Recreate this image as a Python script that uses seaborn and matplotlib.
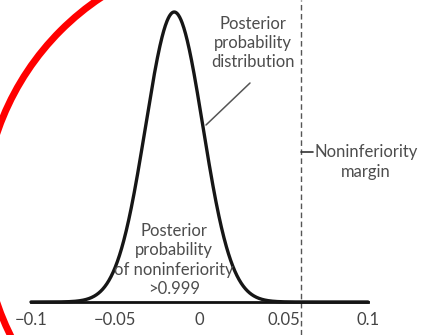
import numpy as np
import pandas as pd
import seaborn as sns
import matplotlib
matplotlib.use("Agg")
import matplotlib.pyplot as plt
from matplotlib.patches import Arc

# Posterior distribution of the risk difference
post_mean = -0.015
post_sd = 0.017
margin = 0.06
x_ticks = [-0.1, -0.05, 0, 0.05, 0.1]
x_tick_labels = ["\u22120.1", "\u22120.05", "0", "0.05", "0.1"]
label_posterior = "Posterior\nprobability\ndistribution"
label_margin = "Noninferiority\nmargin"
label_prob = "Posterior\nprobability\nof noninferiority\n>0.999"

sns.set_style("white")
plt.rcParams["font.family"] = ["Lato", "DejaVu Sans"]

W, H = 421, 335
fig = plt.figure(figsize=(W / 100, H / 100), dpi=100)
ax = fig.add_axes([0, 0, 1, 1])

grid = np.linspace(-0.1, 0.1, 801)
density = np.exp(-0.5 * ((grid - post_mean) / post_sd) ** 2) / (post_sd * np.sqrt(2 * np.pi))
df = pd.DataFrame({"diff": grid, "density": density})
peak = density.max()

sns.lineplot(data=df, x="diff", y="density", ax=ax, color="#161616", lw=2.4, zorder=3)

# axis geometry (pixels): -0.1 at 31, 0.1 at 368; baseline 302, peak 12
k = 337 / 0.2
ax.set_xlim(-0.1 - 31 / k, 0.1 + (W - 368) / k)
unit = peak / 290
ax.set_ylim(-(H - 302) * unit, 302 * unit)

ax.axvline(margin, color="#555555", lw=1.0, ls=(0, (4, 2.5)), zorder=2)

for s in ["left", "right", "top"]:
    ax.spines[s].set_visible(False)
ax.spines["bottom"].set_position(("data", 0))
ax.spines["bottom"].set_bounds(-0.1, 0.1)
ax.spines["bottom"].set_linewidth(2)
ax.spines["bottom"].set_color("#111111")
ax.set_xticks(x_ticks)
ax.set_xticklabels(x_tick_labels)
ax.set_yticks([])
ax.tick_params(axis="x", direction="out", length=6, width=1.5, color="#111111",
               labelsize=12, labelcolor="#444444", pad=1.5)
ax.set_xlabel("")
ax.set_ylabel("")

# overlay in pixel coordinates for annotations
ov = fig.add_axes([0, 0, 1, 1], zorder=5)
ov.set_xlim(0, W)
ov.set_ylim(H, 0)
ov.axis("off")
ov.patch.set_alpha(0)

txt = dict(color="#4d4d4d", fontsize=12, ha="center", va="center",
           multialignment="center", linespacing=1.25)
ov.text(253, 43, label_posterior, **txt)
ov.plot([250, 206], [83, 125], color="#555555", lw=1.1)

ov.text(366, 162, label_margin, **txt)
ov.plot([301, 313], [152, 152], color="#333333", lw=1.2)

ov.text(174, 260, label_prob, **txt)

# red highlight ring, left portion
ov.add_patch(Arc((248, 218), 530, 530, theta1=90, theta2=270,
                 ec="#ff0000", lw=5))

fig.savefig("out.png", dpi=100)
